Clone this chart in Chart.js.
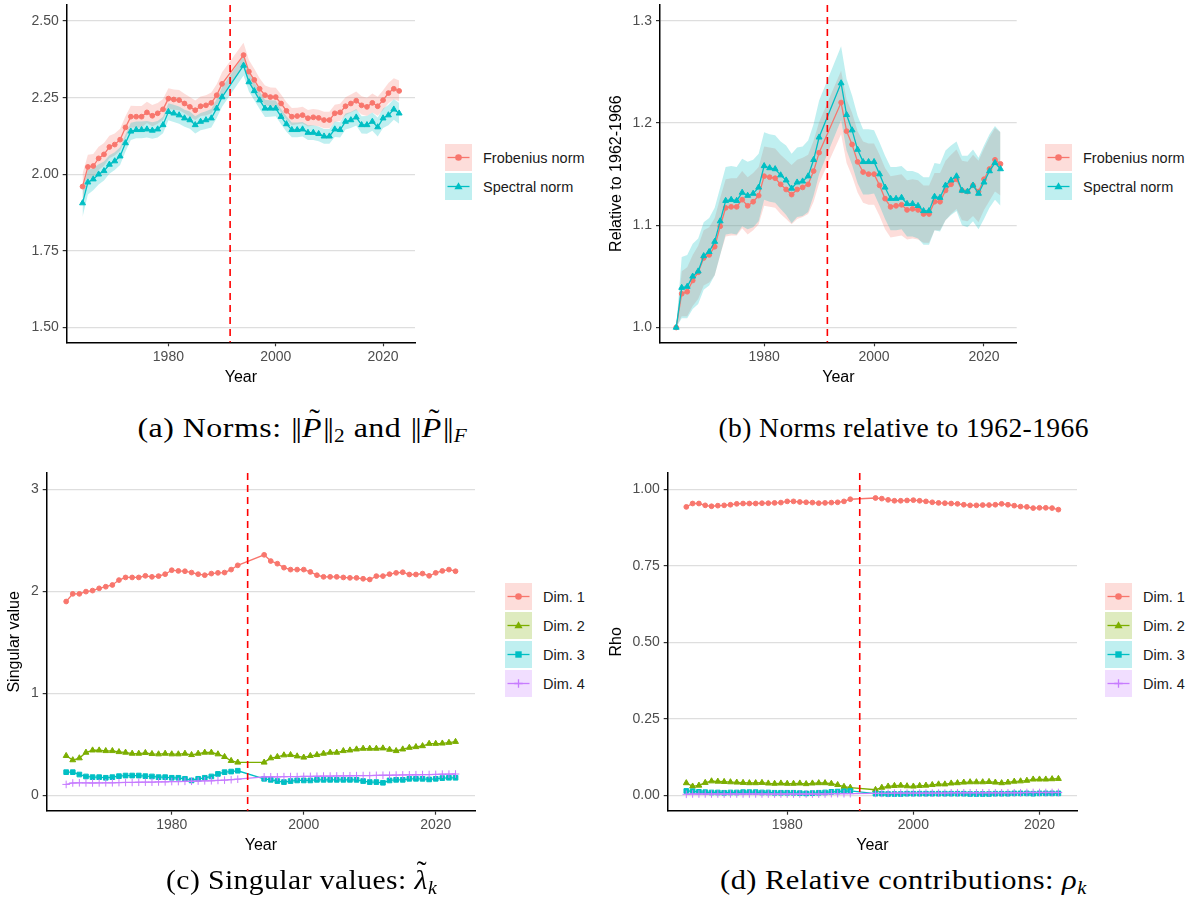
<!DOCTYPE html>
<html>
<head>
<meta charset="utf-8">
<script src="https://cdn.jsdelivr.net/npm/chart.js@4.4.1/dist/chart.umd.min.js"></script>
<style>
  body { margin: 0; background: #fff; width: 1199px; height: 913px; position: relative; overflow: hidden;
         font-family: "Liberation Sans", Arial, sans-serif; }
  canvas { position: absolute; }
  .cap { position: absolute; font-family: "Liberation Serif", "Times New Roman", serif; font-size: 27px;
         line-height: 30px; color: #000; white-space: nowrap; transform-origin: center; letter-spacing: 0.4px; }
  .cap sub { font-size: 18px; vertical-align: -5px; line-height: 0; }
  .cap .bars { letter-spacing: -1.8px; margin: 0 2px 0 1px; }
  .cap .acc { position: relative; display: inline-block; }
  .cap .tl { position: absolute; font-style: normal; }
  .legend { position: absolute; font-size: 14.5px; color: #1a1a1a; }
  .row { display: flex; align-items: center; height: 27px; margin-bottom: 2px; }
  .row svg { flex: none; margin-right: 11px; }
</style>
</head>
<body>
<script>
// ---- data ----
const YEARS = [1964, 1965, 1966, 1967, 1968, 1969, 1970, 1971, 1972, 1973, 1974, 1975, 1976, 1977, 1978, 1979,
  1980, 1981, 1982, 1983, 1984, 1985, 1986, 1987, 1988, 1989, 1990,
  1994, 1995, 1996, 1997, 1998, 1999, 2000, 2001, 2002, 2003, 2004, 2005, 2006, 2007, 2008, 2009,
  2010, 2011, 2012, 2013, 2014, 2015, 2016, 2017, 2018, 2019, 2020, 2021, 2022, 2023];
const BREAK_YEAR = 1991.5;
const X_TICKS = [1980, 2000, 2020];

const NORM_LABELS = ['Frobenius norm', 'Spectral norm'];
const DIM_LABELS = ['Dim. 1', 'Dim. 2', 'Dim. 3', 'Dim. 4'];

// (a) norms
const FROB_NORM = [1.960, 2.024, 2.027, 2.052, 2.065, 2.089, 2.097, 2.113, 2.153, 2.188, 2.188, 2.188, 2.202, 2.191, 2.199, 2.212,
  2.247, 2.244, 2.242, 2.231, 2.220, 2.209, 2.222, 2.225, 2.233, 2.258, 2.295,
  2.389, 2.335, 2.308, 2.279, 2.258, 2.252, 2.252, 2.231, 2.207, 2.188, 2.190, 2.193, 2.183, 2.186, 2.184, 2.177,
  2.177, 2.199, 2.202, 2.222, 2.231, 2.240, 2.225, 2.220, 2.233, 2.222, 2.242, 2.265, 2.279, 2.272];
const FROB_BAND = [0.042, 0.040, 0.039, 0.038, 0.037, 0.037, 0.036, 0.036, 0.036, 0.036, 0.035, 0.035, 0.035, 0.035, 0.034, 0.034,
  0.034, 0.033, 0.033, 0.032, 0.032, 0.032, 0.032, 0.033, 0.034, 0.036, 0.038,
  0.040, 0.038, 0.036, 0.034, 0.032, 0.031, 0.030, 0.029, 0.028, 0.028, 0.027, 0.027, 0.027, 0.027, 0.027, 0.027,
  0.027, 0.028, 0.028, 0.029, 0.029, 0.030, 0.030, 0.030, 0.031, 0.031, 0.032, 0.033, 0.034, 0.034];
const SPEC_NORM = [1.906, 1.974, 1.984, 2.000, 2.011, 2.032, 2.043, 2.059, 2.102, 2.140, 2.145, 2.145, 2.147, 2.143, 2.147, 2.161,
  2.204, 2.199, 2.193, 2.183, 2.177, 2.161, 2.172, 2.177, 2.183, 2.215, 2.252,
  2.355, 2.301, 2.272, 2.242, 2.215, 2.215, 2.215, 2.188, 2.164, 2.145, 2.145, 2.147, 2.136, 2.136, 2.132, 2.124,
  2.124, 2.147, 2.145, 2.172, 2.177, 2.186, 2.161, 2.161, 2.172, 2.154, 2.183, 2.193, 2.212, 2.199];
const SPEC_BAND = [0.045, 0.040, 0.036, 0.033, 0.031, 0.030, 0.029, 0.029, 0.028, 0.028, 0.027, 0.027, 0.027, 0.027, 0.027, 0.027,
  0.028, 0.028, 0.028, 0.028, 0.028, 0.028, 0.028, 0.029, 0.030, 0.031, 0.032,
  0.033, 0.031, 0.030, 0.029, 0.028, 0.027, 0.026, 0.025, 0.025, 0.024, 0.024, 0.024, 0.024, 0.024, 0.024, 0.024,
  0.024, 0.025, 0.025, 0.026, 0.026, 0.027, 0.028, 0.029, 0.030, 0.031, 0.032, 0.033, 0.034, 0.034];
const TICKS_NORM = [1.50, 1.75, 2.00, 2.25, 2.50];

// (b) norms relative to 1962-1966
const FROB_REL = [1.000, 1.033, 1.035, 1.046, 1.054, 1.068, 1.071, 1.079, 1.099, 1.117, 1.118, 1.118, 1.125, 1.119, 1.123, 1.129,
  1.148, 1.147, 1.146, 1.140, 1.135, 1.130, 1.135, 1.137, 1.140, 1.153, 1.171,
  1.220, 1.192, 1.179, 1.162, 1.152, 1.150, 1.150, 1.139, 1.126, 1.118, 1.119, 1.120, 1.115, 1.116, 1.115, 1.111,
  1.111, 1.123, 1.123, 1.134, 1.140, 1.145, 1.134, 1.133, 1.139, 1.133, 1.145, 1.155, 1.164, 1.160];
const FROB_REL_BAND = [0.000, 0.022, 0.024, 0.025, 0.026, 0.027, 0.027, 0.028, 0.028, 0.028, 0.028, 0.028, 0.028, 0.028, 0.028, 0.028,
  0.029, 0.029, 0.029, 0.029, 0.029, 0.029, 0.029, 0.029, 0.029, 0.030, 0.030,
  0.031, 0.031, 0.031, 0.030, 0.030, 0.030, 0.030, 0.030, 0.030, 0.030, 0.030, 0.030, 0.029, 0.029, 0.029, 0.028,
  0.028, 0.028, 0.028, 0.029, 0.029, 0.029, 0.029, 0.029, 0.030, 0.030, 0.030, 0.031, 0.031, 0.031];
const SPEC_REL = [1.000, 1.039, 1.040, 1.050, 1.055, 1.070, 1.074, 1.084, 1.104, 1.124, 1.125, 1.124, 1.132, 1.129, 1.131, 1.137,
  1.158, 1.156, 1.155, 1.149, 1.144, 1.136, 1.142, 1.143, 1.148, 1.164, 1.186,
  1.239, 1.208, 1.193, 1.174, 1.162, 1.162, 1.162, 1.150, 1.137, 1.126, 1.126, 1.127, 1.121, 1.121, 1.119, 1.114,
  1.114, 1.128, 1.127, 1.139, 1.144, 1.148, 1.134, 1.133, 1.139, 1.131, 1.142, 1.153, 1.161, 1.155];
const SPEC_REL_BAND = [0.000, 0.030, 0.031, 0.032, 0.032, 0.033, 0.033, 0.033, 0.033, 0.033, 0.033, 0.033, 0.033, 0.033, 0.033, 0.033,
  0.033, 0.033, 0.033, 0.033, 0.034, 0.034, 0.034, 0.034, 0.035, 0.035, 0.036,
  0.036, 0.035, 0.034, 0.033, 0.032, 0.032, 0.031, 0.031, 0.031, 0.031, 0.031, 0.031, 0.032, 0.032, 0.032, 0.033,
  0.033, 0.033, 0.033, 0.034, 0.034, 0.034, 0.034, 0.035, 0.035, 0.035, 0.036, 0.036, 0.036, 0.036];
const TICKS_REL = [1.0, 1.1, 1.2, 1.3];

// (c) singular values
const SV_DIM1 = [1.901, 1.976, 1.976, 1.998, 2.008, 2.030, 2.046, 2.063, 2.111, 2.137, 2.137, 2.137, 2.153, 2.143, 2.150, 2.169,
  2.208, 2.201, 2.198, 2.185, 2.169, 2.159, 2.175, 2.182, 2.185, 2.214, 2.256,
  2.359, 2.298, 2.272, 2.233, 2.214, 2.214, 2.214, 2.191, 2.159, 2.143, 2.143, 2.143, 2.137, 2.133, 2.133, 2.124,
  2.117, 2.150, 2.150, 2.169, 2.182, 2.188, 2.166, 2.166, 2.175, 2.153, 2.182, 2.201, 2.214, 2.198];
const SV_DIM2 = [0.387, 0.345, 0.364, 0.419, 0.441, 0.441, 0.435, 0.435, 0.425, 0.419, 0.409, 0.409, 0.416, 0.406, 0.403, 0.409,
  0.403, 0.403, 0.409, 0.396, 0.409, 0.419, 0.419, 0.403, 0.377, 0.338, 0.322,
  0.322, 0.364, 0.377, 0.393, 0.396, 0.383, 0.371, 0.387, 0.396, 0.409, 0.419, 0.419, 0.435, 0.441, 0.451, 0.458,
  0.458, 0.458, 0.461, 0.448, 0.435, 0.451, 0.467, 0.474, 0.483, 0.506, 0.506, 0.509, 0.516, 0.525];
const SV_DIM3 = [0.226, 0.226, 0.203, 0.184, 0.177, 0.177, 0.171, 0.177, 0.187, 0.193, 0.193, 0.193, 0.187, 0.184, 0.177, 0.177,
  0.171, 0.171, 0.161, 0.145, 0.161, 0.171, 0.184, 0.209, 0.226, 0.232, 0.240,
  0.161, 0.151, 0.139, 0.129, 0.139, 0.145, 0.145, 0.145, 0.151, 0.151, 0.151, 0.151, 0.151, 0.151, 0.151, 0.139,
  0.129, 0.129, 0.122, 0.145, 0.151, 0.151, 0.161, 0.161, 0.161, 0.155, 0.161, 0.168, 0.171, 0.171];
const SV_DIM4 = [0.106, 0.120, 0.122, 0.121, 0.120, 0.121, 0.122, 0.122, 0.124, 0.125, 0.125, 0.127, 0.128, 0.128, 0.130, 0.131,
  0.134, 0.134, 0.136, 0.137, 0.139, 0.141, 0.142, 0.145, 0.148, 0.152, 0.157,
  0.180, 0.181, 0.180, 0.182, 0.183, 0.183, 0.185, 0.185, 0.186, 0.188, 0.188, 0.189, 0.190, 0.191, 0.192, 0.193,
  0.193, 0.195, 0.196, 0.196, 0.198, 0.199, 0.200, 0.201, 0.202, 0.203, 0.204, 0.206, 0.207, 0.208];
const TICKS_SV = [0, 1, 2, 3];

// (d) relative contributions
const RHO_DIM1 = [0.943, 0.954, 0.954, 0.948, 0.945, 0.947, 0.948, 0.950, 0.953, 0.954, 0.954, 0.954, 0.955, 0.955, 0.956, 0.957,
  0.961, 0.961, 0.959, 0.958, 0.957, 0.955, 0.956, 0.957, 0.958, 0.961, 0.968,
  0.972, 0.970, 0.966, 0.963, 0.963, 0.964, 0.965, 0.963, 0.961, 0.958, 0.956, 0.955, 0.954, 0.953, 0.950, 0.948,
  0.948, 0.949, 0.949, 0.950, 0.953, 0.950, 0.947, 0.944, 0.943, 0.939, 0.940, 0.940, 0.939, 0.934];
const RHO_DIM2 = [0.040, 0.029, 0.032, 0.041, 0.046, 0.045, 0.044, 0.043, 0.042, 0.041, 0.040, 0.040, 0.041, 0.039, 0.038, 0.039,
  0.038, 0.038, 0.039, 0.037, 0.039, 0.040, 0.040, 0.038, 0.034, 0.028, 0.025,
  0.018, 0.025, 0.029, 0.031, 0.032, 0.030, 0.029, 0.031, 0.032, 0.034, 0.036, 0.036, 0.039, 0.040, 0.042, 0.043,
  0.043, 0.043, 0.044, 0.042, 0.040, 0.042, 0.045, 0.046, 0.048, 0.052, 0.052, 0.052, 0.053, 0.054];
const RHO_DIM3 = [0.014, 0.013, 0.011, 0.010, 0.009, 0.009, 0.008, 0.009, 0.009, 0.010, 0.010, 0.010, 0.009, 0.009, 0.008, 0.008,
  0.008, 0.008, 0.007, 0.006, 0.007, 0.008, 0.009, 0.011, 0.012, 0.013, 0.014,
  0.005, 0.005, 0.004, 0.004, 0.004, 0.005, 0.005, 0.005, 0.005, 0.005, 0.005, 0.005, 0.005, 0.005, 0.005, 0.004,
  0.004, 0.004, 0.004, 0.005, 0.005, 0.005, 0.006, 0.006, 0.006, 0.005, 0.006, 0.006, 0.006, 0.006];
const RHO_DIM4 = [0.003, 0.004, 0.004, 0.004, 0.004, 0.004, 0.004, 0.004, 0.004, 0.004, 0.004, 0.004, 0.004, 0.004, 0.004, 0.004,
  0.004, 0.004, 0.004, 0.004, 0.004, 0.004, 0.004, 0.005, 0.005, 0.005, 0.005,
  0.006, 0.006, 0.006, 0.007, 0.007, 0.007, 0.007, 0.007, 0.007, 0.007, 0.007, 0.007, 0.008, 0.008, 0.008, 0.008,
  0.008, 0.008, 0.008, 0.008, 0.008, 0.008, 0.008, 0.008, 0.009, 0.009, 0.009, 0.009, 0.009, 0.009];
const TICKS_RHO = [0, 0.25, 0.5, 0.75, 1];

// ---- styling ----
const RED = '#F8766D', GREEN = '#7CAE00', TEAL = '#00BFC4', PURPLE = '#C77CFF';
const MARK = {
  circle: { pointStyle: 'circle', r: 2.4 },
  triangle: { pointStyle: 'triangle', r: 3.4 },
  rect: { pointStyle: 'rect', r: 3.3 },
  cross: { pointStyle: 'cross', r: 3.8 }
};

Chart.defaults.font.family = '"Liberation Sans", Arial, sans-serif';

function alpha(hex, a) {
  const n = parseInt(hex.slice(1), 16);
  return `rgba(${n >> 16}, ${(n >> 8) & 255}, ${n & 255}, ${a})`;
}

// red dashed break line
const breakLine = {
  id: 'breakLine',
  afterDatasetsDraw(chart) {
    const { ctx, chartArea, scales } = chart;
    const px = scales.x.getPixelForValue(BREAK_YEAR);
    ctx.save();
    ctx.strokeStyle = '#FF0000';
    ctx.lineWidth = 1.6;
    ctx.setLineDash([7, 5]);
    ctx.beginPath();
    ctx.moveTo(px, chartArea.top);
    ctx.lineTo(px, chartArea.bottom);
    ctx.stroke();
    ctx.restore();
  }
};

function drawPanel(p) {
  const canvas = document.createElement('canvas');
  canvas.width = p.width;
  canvas.height = p.height;
  Object.assign(canvas.style, { left: p.left + 'px', top: p.top + 'px', width: p.width + 'px', height: p.height + 'px' });
  document.body.appendChild(canvas);

  const datasets = [];
  p.series.forEach((s, i) => {
    if (!s.band) return;
    const loIndex = datasets.length;
    datasets.push({
      data: YEARS.map((yr, k) => ({ x: yr, y: s.values[k] - s.band[k] })),
      borderWidth: 0, borderColor: 'transparent', pointRadius: 0, fill: false, order: 40 - i
    });
    datasets.push({
      data: YEARS.map((yr, k) => ({ x: yr, y: s.values[k] + s.band[k] })),
      borderWidth: 0, borderColor: 'transparent', pointRadius: 0,
      fill: loIndex, backgroundColor: alpha(s.color, 0.25), order: 30 - i
    });
  });
  p.series.forEach((s, i) => {
    const m = MARK[s.shape];
    datasets.push({
      data: YEARS.map((yr, k) => ({ x: yr, y: s.values[k] })),
      borderColor: s.color, borderWidth: 1.3, backgroundColor: s.color,
      pointStyle: m.pointStyle, pointRadius: m.r, pointBorderWidth: 1,
      pointBackgroundColor: s.color, pointBorderColor: s.color,
      fill: false, tension: 0, order: 10 - i
    });
  });

  new Chart(canvas, {
    type: 'line',
    data: { datasets },
    options: {
      responsive: false,
      animation: false,
      events: [],
      layout: { padding: { top: 0, right: p.padRight, bottom: 0, left: 0 } },
      plugins: { legend: { display: false }, tooltip: { enabled: false } },
      scales: {
        x: {
          type: 'linear', min: 1961.05, max: 2025.95,
          afterBuildTicks: a => { a.ticks = X_TICKS.map(v => ({ value: v })); },
          afterFit: a => { a.height = p.height - p.plotBottom; a.paddingLeft = 0; a.paddingRight = 0; },
          ticks: { autoSkip: false, maxRotation: 0, color: '#4D4D4D', font: { size: 14 }, padding: 2,
                   callback: v => String(v) },
          grid: { drawOnChartArea: false, drawTicks: true, tickLength: 4, tickColor: '#333', tickWidth: 1.2 },
          border: { display: true, color: '#000', width: 1.5 },
          title: { display: true, text: 'Year', color: '#000', font: { size: 16 }, padding: { top: 0, bottom: 5 } }
        },
        y: {
          type: 'linear', min: p.yMin, max: p.yMax,
          afterBuildTicks: a => { a.ticks = p.yTicks.map(v => ({ value: v })); },
          afterFit: a => { a.width = p.yAxisW; a.paddingTop = 0; a.paddingBottom = 0; },
          ticks: { autoSkip: false, color: '#4D4D4D', font: { size: 14 }, padding: 4,
                   callback: v => p.yDigits == null ? String(v) : v.toFixed(p.yDigits) },
          grid: { color: '#DEDEDE', lineWidth: 1.2, drawTicks: true, tickLength: 4, tickColor: '#333', tickWidth: 1.2 },
          border: { display: true, color: '#000', width: 1.5 },
          title: { display: !!p.yTitle, text: p.yTitle, color: '#000', font: { size: 16 }, padding: { top: p.yTitlePad || 0, bottom: 0 } }
        }
      }
    },
    plugins: [breakLine]
  });
}

drawPanel({
  left: 0, top: 0, width: 420, height: 392, padRight: 5, plotBottom: 342.3, yAxisW: 66.7,
  yMin: 1.4518, yMax: 2.5524, yTicks: TICKS_NORM, yDigits: 2, yTitle: '',
  series: [
    { values: FROB_NORM, band: FROB_BAND, color: RED, shape: 'circle' },
    { values: SPEC_NORM, band: SPEC_BAND, color: TEAL, shape: 'triangle' }
  ]
});
drawPanel({
  left: 600, top: 0, width: 422, height: 392, padRight: 5.3, plotBottom: 342.3, yAxisW: 60,
  yMin: 0.98554, yMax: 1.3154, yTicks: TICKS_REL, yDigits: 1, yTitle: 'Relative to 1962-1966', yTitlePad: 7.4,
  series: [
    { values: FROB_REL, band: FROB_REL_BAND, color: RED, shape: 'circle' },
    { values: SPEC_REL, band: SPEC_REL_BAND, color: TEAL, shape: 'triangle' }
  ]
});
drawPanel({
  left: 0, top: 468, width: 480, height: 392, padRight: 4, plotBottom: 342.7, yAxisW: 46.7,
  yMin: -0.152, yMax: 3.162, yTicks: TICKS_SV, yDigits: null, yTitle: 'Singular value', yTitlePad: 5.4,
  series: [
    { values: SV_DIM1, color: RED, shape: 'circle' },
    { values: SV_DIM2, color: GREEN, shape: 'triangle' },
    { values: SV_DIM3, color: TEAL, shape: 'rect' },
    { values: SV_DIM4, color: PURPLE, shape: 'cross' }
  ]
});
drawPanel({
  left: 600, top: 468, width: 482, height: 392, padRight: 5, plotBottom: 342.7, yAxisW: 67.7,
  yMin: -0.0506, yMax: 1.0538, yTicks: TICKS_RHO, yDigits: 2, yTitle: 'Rho', yTitlePad: 7.4,
  series: [
    { values: RHO_DIM1, color: RED, shape: 'circle' },
    { values: RHO_DIM2, color: GREEN, shape: 'triangle' },
    { values: RHO_DIM3, color: TEAL, shape: 'rect' },
    { values: RHO_DIM4, color: PURPLE, shape: 'cross' }
  ]
});

// ---- legends (HTML) ----
function keySvg(color, shape) {
  let mark;
  if (shape === 'circle') mark = `<circle cx="13.5" cy="13.5" r="3.3" fill="${color}"/>`;
  else if (shape === 'triangle') mark = `<polygon points="13.5,9.3 17.6,16.2 9.4,16.2" fill="${color}"/>`;
  else if (shape === 'rect') mark = `<rect x="10.3" y="10.3" width="6.4" height="6.4" fill="${color}"/>`;
  else mark = `<path d="M13.5 9.3V17.7M9.3 13.5H17.7" stroke="${color}" stroke-width="1.3"/>`;
  return `<svg width="27" height="27"><rect width="27" height="27" fill="${alpha(color, 0.25)}"/>` +
         `<line x1="2.5" y1="13.5" x2="24.5" y2="13.5" stroke="${color}" stroke-width="1.3"/>${mark}</svg>`;
}
function legend(left, top, labels, colors, shapes) {
  const div = document.createElement('div');
  div.className = 'legend';
  div.style.left = left + 'px';
  div.style.top = top + 'px';
  div.innerHTML = labels.map((t, i) => `<div class="row">${keySvg(colors[i], shapes[i])}<span>${t}</span></div>`).join('');
  document.body.appendChild(div);
}
legend(445, 144, NORM_LABELS, [RED, TEAL], ['circle', 'triangle']);
legend(1045, 144, NORM_LABELS, [RED, TEAL], ['circle', 'triangle']);
legend(505, 583, DIM_LABELS, [RED, GREEN, TEAL, PURPLE], ['circle', 'triangle', 'rect', 'cross']);
legend(1105, 583, DIM_LABELS, [RED, GREEN, TEAL, PURPLE], ['circle', 'triangle', 'rect', 'cross']);

// ---- captions (stretched to the width of the LaTeX originals) ----
function caption(cx, top, width, html) {
  const d = document.createElement('div');
  d.className = 'cap';
  d.style.top = top + 'px';
  d.innerHTML = html;
  document.body.appendChild(d);
  const w = d.offsetWidth;
  d.style.left = (cx - w / 2) + 'px';
  d.style.transform = `scaleX(${width / w})`;
}
const P_TILDE = '<span class="acc"><i>P</i><span class="tl" style="left:6px;top:-9px">&#732;</span></span>';
const LAMBDA_TILDE = '<span class="acc"><i>&#955;</i><span class="tl" style="left:2px;top:-9px">&#732;</span></span>';
caption(302, 413, 330, `(a) Norms: <span class="bars">||</span>${P_TILDE}<span class="bars">||</span><sub>2</sub> and ` +
  `<span class="bars">||</span>${P_TILDE}<span class="bars">||</span><sub><i>F</i></sub>`);
caption(903, 413, 370, '(b) Norms relative to 1962-1966');
caption(301, 865, 271, `(c) Singular values: ${LAMBDA_TILDE}<sub><i>k</i></sub>`);
caption(903, 865, 367, '(d) Relative contributions: <i>&#961;</i><sub><i>k</i></sub>');
</script>
</body>
</html>
